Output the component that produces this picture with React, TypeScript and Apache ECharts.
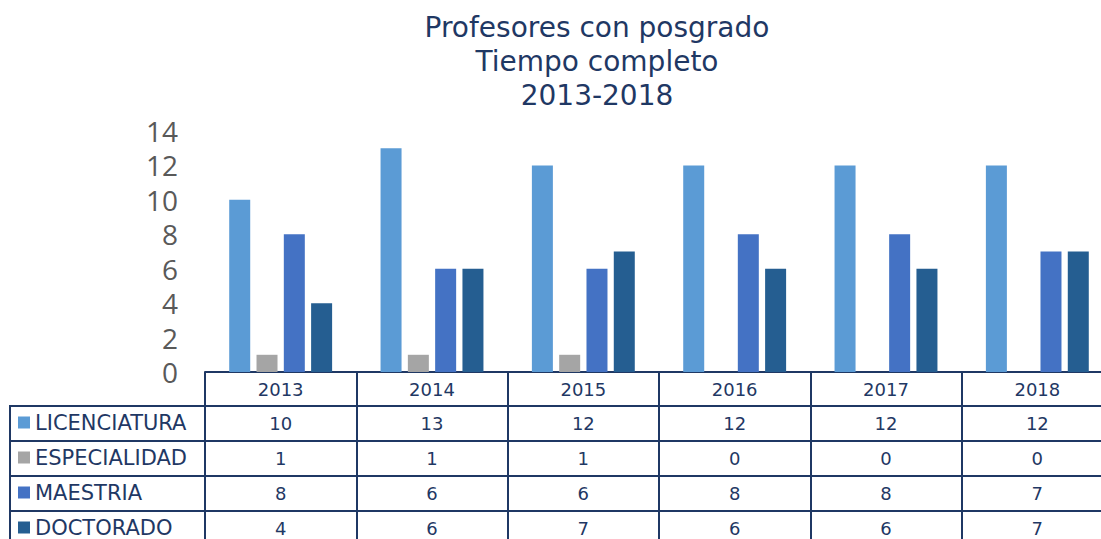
import React, { useEffect, useRef } from "react";
import * as echarts from "echarts";

const years = ["2013", "2014", "2015", "2016", "2017", "2018"];
const seriesNames = ["LICENCIATURA", "ESPECIALIDAD", "MAESTRIA", "DOCTORADO"];
const licenciatura = [10, 13, 12, 12, 12, 12];
const especialidad = [1, 1, 1, 0, 0, 0];
const maestria = [8, 6, 6, 8, 8, 7];
const doctorado = [4, 6, 7, 6, 6, 7];
const colors = ["#5B9BD5", "#A5A5A5", "#4472C4", "#255E91"];
const titleText = "Profesores con posgrado\nTiempo completo\n2013-2018";

const NAVY = "#1F3864";
const FONT = "'DejaVu Sans', sans-serif";
const AXIS_FONT = "'Open Sans', sans-serif";

export default function App() {
  const ref = useRef<HTMLDivElement>(null);
  useEffect(() => {
    if (!ref.current) return;
    const chart = echarts.init(ref.current, undefined, { renderer: "svg" });
    const values = [licenciatura, especialidad, maestria, doctorado];
    const gridBottom = 167;
    const rowH = 35;
    const headerH = 34;
    const lineW = 2;

    const tableAxis = (data: (string | number)[], offset: number, main: boolean) => ({
      type: "category",
      data: data.map(String),
      position: "bottom",
      offset,
      gridIndex: 0,
      axisLine: { show: true, lineStyle: { color: NAVY, width: lineW } },
      axisTick: {
        show: true,
        interval: 0,
        length: main ? headerH : rowH,
        lineStyle: { color: NAVY, width: lineW },
      },
      axisLabel: {
        show: true,
        interval: 0,
        margin: 8,
        color: NAVY,
        fontSize: 18,
        fontFamily: FONT,
      },
      splitLine: { show: false },
    });

    const xAxes: any[] = [tableAxis(years, 0, true)];
    values.forEach((v, i) => {
      xAxes.push(tableAxis(v, headerH + i * rowH, false));
    });

    const baseY = 539 - gridBottom;
    const leftX = 10;
    const gridLeft = 205;
    const graphics: any[] = [];
    for (let i = 0; i < seriesNames.length; i++) {
      const y = baseY + headerH + i * rowH;
      graphics.push({
        type: "line",
        shape: { x1: leftX - 1, y1: y, x2: gridLeft, y2: y },
        style: { stroke: NAVY, lineWidth: lineW },
      });
    }
    graphics.push({
      type: "line",
      shape: { x1: leftX, y1: baseY + headerH, x2: leftX, y2: 560 },
      style: { stroke: NAVY, lineWidth: lineW },
    });

    chart.setOption({
      animation: false,
      title: {
        text: titleText,
        left: 592,
        top: 5,
        textAlign: "center",
        textStyle: {
          color: NAVY,
          fontSize: 28,
          fontWeight: "normal",
          fontFamily: FONT,
          lineHeight: 34,
        },
      },
      legend: {
        orient: "vertical",
        left: 18,
        top: baseY + headerH + 6,
        height: 300,
        padding: 0,
        itemGap: 14,
        itemWidth: 12,
        itemHeight: 12,
        icon: "rect",
        data: seriesNames,
        textStyle: {
          color: NAVY,
          fontSize: 21,
          fontFamily: FONT,
          lineHeight: 21,
        },
      },
      grid: { left: gridLeft, right: 0, top: 131, bottom: gridBottom, containLabel: false },
      xAxis: xAxes,
      yAxis: {
        type: "value",
        min: 0,
        max: 14,
        interval: 2,
        axisLine: { show: false },
        axisTick: { show: false },
        splitLine: { show: false },
        axisLabel: {
          color: "#595959",
          fontSize: 28,
          fontFamily: AXIS_FONT,
          margin: 27,
        },
      },
      graphic: graphics,
      series: seriesNames.map((name, i) => ({
        name,
        type: "bar",
        xAxisIndex: 0,
        data: values[i],
        barWidth: 21,
        barGap: "30%",
        itemStyle: { color: colors[i] },
      })),
    });
    return () => chart.dispose();
  }, []);
  return (
    <div
      style={{
        position: "absolute",
        left: 0,
        top: 0,
        width: 1101,
        height: 539,
        overflow: "hidden",
      }}
    >
      <div ref={ref} style={{ width: 1113, height: 539 }} />
    </div>
  );
}
